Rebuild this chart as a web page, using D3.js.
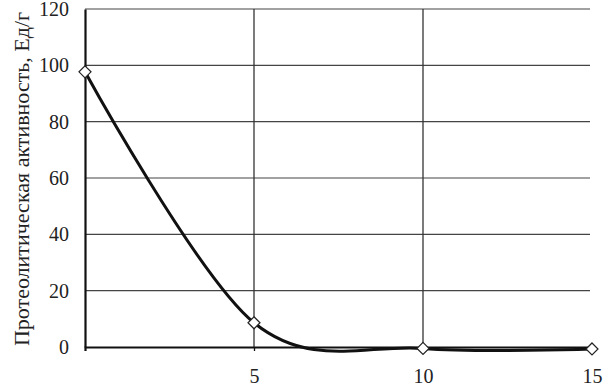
<!DOCTYPE html>
<html>
<head>
<meta charset="utf-8">
<script src="https://cdn.jsdelivr.net/npm/d3@7"></script>
<style>
  body { margin: 0; background: #fff; }
  svg { display: block; }
  .tick text { font-family: "Liberation Serif", "Times New Roman", serif; font-size: 20px; fill: #222; }
</style>
</head>
<body>
<div id="chart"></div>
<script>
// data
var days = [0, 5, 10, 15];
var activity = [97.7, 8.6, -0.5, -0.7];
var yTicks = [0, 20, 40, 60, 80, 100, 120];
var xTicks = [5, 10, 15];
var yTitle = "Протеолитическая активность, Ед/г";

var margin = { top: 9, right: 11, bottom: 40, left: 85 };
var width = 603 - margin.left - margin.right,
    height = 387 - margin.top - margin.bottom;

var svg = d3.select("#chart").append("svg")
    .attr("width", 603)
    .attr("height", 387)
    .append("g")
    .attr("transform", "translate(" + margin.left + "," + margin.top + ")");

var x = d3.scaleLinear().domain([0, 15]).range([0, width]);
var y = d3.scaleLinear().domain([0, 120]).range([height, 0]);

// horizontal grid
svg.append("g")
    .selectAll("line")
    .data(yTicks.filter(function(d) { return d > 0; }))
    .enter().append("line")
    .attr("x1", 0)
    .attr("x2", x(15) - 2)
    .attr("y1", function(d) { return y(d); })
    .attr("y2", function(d) { return y(d); })
    .attr("stroke", "#444")
    .attr("stroke-width", 1.2);

// vertical grid
svg.append("g")
    .selectAll("line")
    .data([5, 10])
    .enter().append("line")
    .attr("x1", function(d) { return x(d); })
    .attr("x2", function(d) { return x(d); })
    .attr("y1", y(120))
    .attr("y2", y(0))
    .attr("stroke", "#333")
    .attr("stroke-width", 1.3);

// y axis
var yAxis = svg.append("g")
    .call(d3.axisLeft(y).tickValues(yTicks).tickSize(0).tickPadding(16).tickFormat(d3.format("d")));
yAxis.select(".domain").attr("stroke", "#111").attr("stroke-width", 2.2);

// x axis
var xAxis = svg.append("g")
    .attr("transform", "translate(0," + height + ")")
    .call(d3.axisBottom(x).tickValues(xTicks).tickSize(4).tickPadding(14));
xAxis.select(".domain").attr("stroke", "#111").attr("stroke-width", 2.2);
xAxis.selectAll(".tick line").attr("stroke", "#111").attr("stroke-width", 1.3);
xAxis.selectAll(".tick text").attr("dy", "0.9em");

// y title
svg.append("text")
    .attr("transform", "translate(" + (-56) + "," + (height / 2 + 1) + ")rotate(-90)")
    .attr("text-anchor", "middle")
    .style("font-family", "'Liberation Serif', 'Times New Roman', serif")
    .style("font-size", "22px")
    .attr("fill", "#222")
    .text(yTitle);

// smoothed line (Excel-like smoothing)
var points = days.map(function(d, i) { return [d, activity[i]]; });
var line = d3.line()
    .x(function(d) { return x(d[0]); })
    .y(function(d) { return y(d[1]); })
    .curve(d3.curveCardinal.tension(0));

svg.append("path")
    .datum(points)
    .attr("d", line)
    .attr("fill", "none")
    .attr("stroke", "#111")
    .attr("stroke-width", 3);

// diamond markers
svg.selectAll(".marker")
    .data(points)
    .enter().append("path")
    .attr("class", "marker")
    .attr("d", "M 0 -6 L 6 0 L 0 6 L -6 0 Z")
    .attr("transform", function(d) { return "translate(" + x(d[0]) + "," + y(d[1]) + ")"; })
    .attr("fill", "#fff")
    .attr("stroke", "#222")
    .attr("stroke-width", 1.2);
</script>
</body>
</html>
